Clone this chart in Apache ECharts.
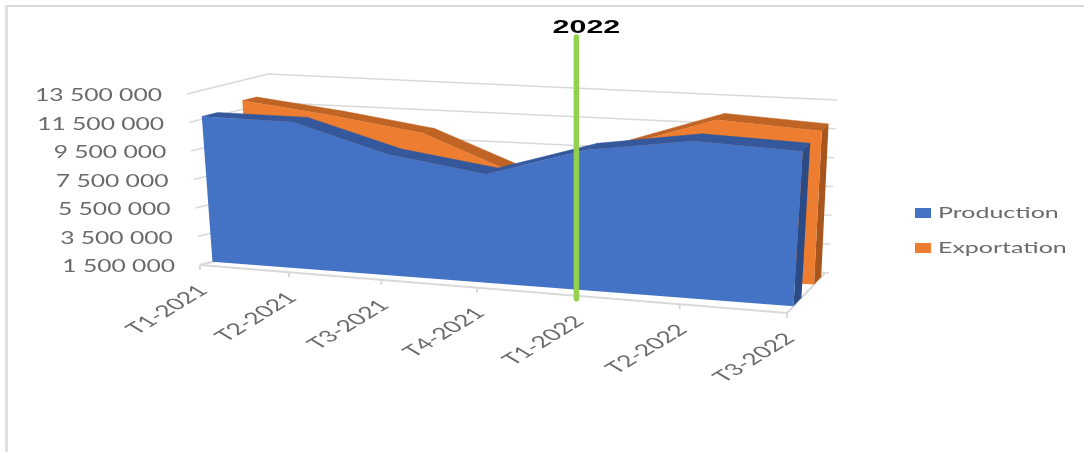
<!DOCTYPE html>
<html><head><meta charset="utf-8">
<style>html,body{margin:0;padding:0;background:#fff}#c{width:1084px;height:452px}</style>
<script src="https://cdn.jsdelivr.net/npm/echarts@6/dist/echarts.min.js"></script>
</head><body><div id="c"></div>
<script>
const categories = ['T1-2021','T2-2021','T3-2021','T4-2021','T1-2022','T2-2022','T3-2022'];
const production = [11700000,11750000,9950000,9050000,11200000,12300000,12100000];
const exportation = [12100000,11400000,10500000,8000000,10200000,12500000,12100000];
const yTicks = [1500000,3500000,5500000,7500000,9500000,11500000,13500000];
const annotation = '2022';
const annotationCategory = 'T1-2022';

const FLB=[200,265],FRB=[787,313],BLB=[278,245],BRB=[825,273];
const FLT=[187,94],FRT=[798,137],BLT=[268,74],BRT=[833,100];
const PERSP=1.119;
const lerp=(a,b,k)=>[a[0]+(b[0]-a[0])*k,a[1]+(b[1]-a[1])*k];
function proj(u,t,d){
  const f=u/(u+PERSP*(1-u));
  const bot=lerp(lerp(FLB,FRB,f),lerp(BLB,BRB,f),d);
  const top=lerp(lerp(FLT,FRT,f),lerp(BLT,BRT,f),d);
  return lerp(bot,top,t);
}
function slabProj(u,t,d){
  const f=u/(u+PERSP*(1-u));
  return proj(u,t,d*(1-0.06*(1-f)));
}
function norm(params,api,i,v){
  const p=api.coord([i,v]),c=params.coordSys;
  return [(p[0]-c.x)/c.width,1-(p[1]-c.y)/c.height];
}
const fmt=v=>String(v).replace(/\B(?=(\d{3})+$)/g,' ');
const GRID='#d9d9d9',TXT='#6a6a6a';
function seg(a,b,w,c){return {type:'line',shape:{x1:a[0],y1:a[1],x2:b[0],y2:b[1]},style:{stroke:c||GRID,lineWidth:w||1.5}};}
function stretched(x,y,sx,text,align,font,color,rot){
  return {type:'group',x:x,y:y,scaleX:sx,children:[{type:'text',rotation:rot||0,style:{text:text,x:0,y:0,align:align,verticalAlign:'middle',font:font,fill:color}}]};
}
function slab(values,d0,d1,cols){
  return function(params,api){
    if(params.dataIndex!==0) return null;
    const n=values.length, F=[],B=[],base=[],baseB=[];
    for(let i=0;i<n;i++){
      const q=norm(params,api,i,values[i]);
      F.push(slabProj(q[0],q[1],d0));B.push(slabProj(q[0],q[1],d1));
      base.push(slabProj(q[0],0,d0));baseB.push(slabProj(q[0],0,d1));
    }
    const ch=[];
    for(let i=0;i<n-1;i++){
      ch.push({type:'polygon',shape:{points:[F[i],F[i+1],B[i+1],B[i]]},style:{fill:cols.top,stroke:cols.top,lineWidth:.5}});
    }
    ch.push({type:'polygon',shape:{points:[F[n-1],B[n-1],baseB[n-1],base[n-1]]},style:{fill:cols.side}});
    ch.push({type:'polygon',shape:{points:F.concat([base[n-1],base[0]])},style:{fill:cols.front}});
    return {type:'group',children:ch};
  };
}
const backdrop=function(params,api){
  if(params.dataIndex!==0) return null;
  const ch=[];
  ch.push(seg([5,6],[1084,6],2),seg([6.5,5],[6.5,452],3,'#e0e0e0'));
  yTicks.forEach(v=>{
    const t=norm(params,api,0,v)[1];
    const e=proj(1,t,1);
    ch.push(seg(proj(0,t,0),proj(0,t,1)),seg(proj(0,t,1),[e[0]+4,e[1]]));
  });
  ch.push(seg(proj(0,0,0),proj(1,0,0),2),seg(proj(1,0,0),proj(1,0,1),2),seg(proj(0,0,0),proj(0,0,1),2));
  categories.forEach((c,i)=>{
    const u=norm(params,api,i,yTicks[0])[0];const p=proj(u,0,0);
    ch.push(seg(p,[p[0],p[1]+5],2));
  });
  return {type:'group',children:ch};
};
const overlay=function(params,api){
  if(params.dataIndex!==0) return null;
  const ch=[];
  yTicks.forEach(v=>{
    const t=norm(params,api,0,v)[1];const p=proj(0,t,0);
    ch.push(stretched(p[0]-25,p[1]+2,1.45,fmt(v),'right','17px Lato',TXT));
  });
  categories.forEach((c,i)=>{
    const u=norm(params,api,i,yTicks[0])[0];const p=proj(u,0,0);
    ch.push(stretched(p[0]+3,p[1]+23,1.65,c,'right','16px Lato',TXT,Math.PI/4));
  });
  const g=norm(params,api,categories.indexOf(annotationCategory),yTicks[0]);
  const gp=proj(g[0],0,0);
  ch.push({type:'line',shape:{x1:gp[0],y1:gp[1]+3,x2:gp[0],y2:37},style:{stroke:'#92d050',lineWidth:5.5,lineCap:'round'}});
  ch.push(stretched(gp[0]+10,28,1.6,annotation,'center','bold 19px "Liberation Sans"','#000000'));
  [['Production','#4472c4',213],['Exportation','#ed7d31',248]].forEach(l=>{
    ch.push({type:'rect',shape:{x:915,y:l[2]-5,width:16,height:10},style:{fill:l[1]}});
    ch.push(stretched(938,l[2],1.56,l[0],'left','16px Lato',TXT));
  });
  return {type:'group',children:ch};
};
const idx=categories.map((c,i)=>[i,yTicks[0]]);
const chart=echarts.init(document.getElementById('c'),null,{renderer:'canvas'});
chart.setOption({
  animation:false,
  backgroundColor:'#ffffff',
  grid:{left:200,right:300,top:94,bottom:187},
  xAxis:{type:'category',data:categories,boundaryGap:false,show:false},
  yAxis:{type:'value',min:1500000,max:13500000,show:false},
  tooltip:{show:false},
  series:[
    {type:'custom',name:'backdrop',z:1,silent:true,clip:false,data:idx,renderItem:backdrop},
    {type:'custom',name:'Exportation',z:2,silent:true,clip:false,data:idx,renderItem:slab(exportation,.71,.9,{front:'#ed7d31',top:'#bf6424',side:'#a8561e'})},
    {type:'custom',name:'Production',z:3,silent:true,clip:false,data:idx,renderItem:slab(production,.17,.38,{front:'#4472c4',top:'#34589b',side:'#2b4b85'})},
    {type:'custom',name:'overlay',z:5,silent:true,clip:false,data:idx,renderItem:overlay}
  ]
});
</script></body></html>
